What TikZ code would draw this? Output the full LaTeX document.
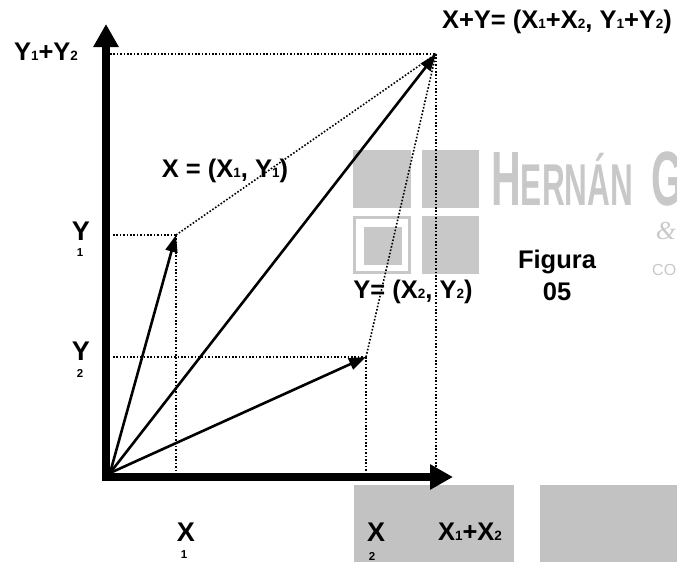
\documentclass[tikz,border=0pt]{standalone}
\usepackage{fontspec}
\usepackage{graphicx}
\setmainfont{Liberation Sans}
\newfontfamily\wmserif{Liberation Serif}
\usetikzlibrary{arrows.meta}
\definecolor{wmgray}{RGB}{200,200,200}
\definecolor{boxgray}{RGB}{194,194,194}
\newcommand\sbs[1]{{\fontsize{13.5}{13.5}\selectfont #1}}
\begin{document}
\begin{tikzpicture}[x=1pt,y=-1pt,
  lbl/.style={font=\fontsize{25.5}{25.5}\selectfont\bfseries, inner sep=0},
  biglbl/.style={font=\fontsize{27}{27}\selectfont\bfseries, inner sep=0},
  sublbl/.style={font=\fontsize{11.5}{11.5}\selectfont\bfseries, inner sep=0},
  vec/.style={line width=2.6pt, -{Triangle[length=17pt,width=12pt]}},
  axisline/.style={line width=8pt, -{Triangle[length=23pt,width=24pt]}},
  guide/.style={line width=1.6pt, dash pattern=on 1.6pt off 1.8pt},
  wm/.style={fill=wmgray},
  wmbox/.style={fill=boxgray}]
\useasboundingbox (0,0) rectangle (677,562);
% watermark
\begin{scope}
\clip (0,0) rectangle (677,562);
\fill[wm] (353,150) rectangle (411,208);
\fill[wm] (422,150) rectangle (479,208);
\draw[wmgray, line width=3pt] (354.5,217.5) rectangle (409.5,272.5);
\fill[wm] (364,227) rectangle (402,265);
\fill[wm] (422,216) rectangle (479,274);
\node[anchor=base west, text=wmgray, inner sep=0] (wmtext) at (491,205)
  {\raisebox{0pt}[\height][0pt]{\scalebox{0.535}[1]{\bfseries\fontsize{77}{77}\selectfont H\fontsize{59}{59}\selectfont ERNÁN\hspace{35pt}\fontsize{77}{77}\selectfont G}}};
\node[text=wmgray, inner sep=0, font=\fontsize{26}{26}\selectfont\wmserif\itshape] (wmamp) at (666,231) {\&};
\node[anchor=base west, text=wmgray, inner sep=0, font=\fontsize{16}{16}\selectfont] (wmco) at (652,275) {CO};
\fill[wmbox] (354,485) rectangle (514,562);
\fill[wmbox] (540,485) rectangle (677,562);
\end{scope}
% points
\coordinate (O) at (110,473);
\coordinate (A) at (176,235);
\coordinate (B) at (366,357);
\coordinate (S) at (436,54);
\coordinate (ys) at (110,54);
\coordinate (ya) at (113,235);
\coordinate (yb) at (113,357);
\coordinate (xa) at (176,473);
\coordinate (xb) at (366,473);
\coordinate (xs) at (436,473);
% guides
\draw[guide] (ys) -- (S);
\draw[guide] (ya) -- (A);
\draw[guide] (yb) -- (B);
\draw[guide] (A) -- (xa);
\draw[guide] (B) -- (xb);
\draw[guide] (S) -- (xs);
\draw[guide] (A) -- (S);
\draw[guide] (B) -- (S);
% axes
\coordinate (vbot) at (106,481);
\coordinate (vtop) at (106,24);
\coordinate (hleft) at (102,477);
\coordinate (hright) at (453,477);
\draw[axisline] (vbot) -- (vtop);
\draw[axisline] (hleft) -- (hright);
% vectors
\draw[vec] (O) -- (A);
\draw[vec] (O) -- (B);
\draw[vec] (O) -- (S);
% labels
\node[lbl] (lys) at (46,52) {Y\sbs{1}+Y\sbs{2}};
\node[lbl] (lsum) at (557,22) {X+Y= (X\sbs{1}+X\sbs{2}, Y\sbs{1}+Y\sbs{2})};
\node[lbl] (lx) at (225,171) {X = (X\sbs{1}, Y\sbs{1})};
\node[lbl] (ly) at (413,292) {Y= (X\sbs{2}, Y\sbs{2})};
\node[biglbl] (ly1) at (81,231) {Y};
\node[sublbl] (ly1s) at (80,253) {1};
\node[biglbl] (ly2) at (81,351) {Y};
\node[sublbl] (ly2s) at (80,373) {2};
\node[biglbl] (lx1) at (186,532) {X};
\node[sublbl] (lx1s) at (184,555) {1};
\node[biglbl] (lx2) at (376,532) {X};
\node[sublbl] (lx2s) at (372,556) {2};
\node[lbl] (lxs) at (470,532) {X\sbs{1}+X\sbs{2}};
\node[lbl] (fig) at (557,262) {Figura};
\node[lbl] (fign) at (557,292) {05};
\end{tikzpicture}
\end{document}
